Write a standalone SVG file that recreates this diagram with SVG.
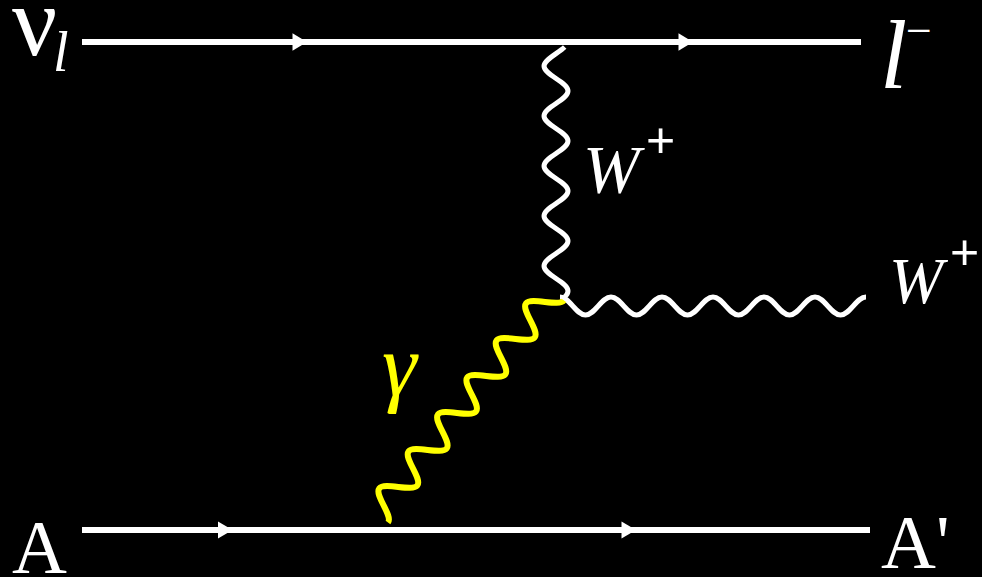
<svg xmlns="http://www.w3.org/2000/svg" width="982" height="577" viewBox="0 0 982 577">
<style>
  .bg{fill:#000}
  .ln{stroke:#fff;stroke-width:6;fill:none}
  .wv{stroke:#fff;stroke-width:5;fill:none;stroke-linecap:butt;stroke-linejoin:round}
  .ph{stroke:#ff0;stroke-width:6;fill:none;stroke-linejoin:round}
  .ah{fill:#fff}
  .t{font-family:"Liberation Serif","Times New Roman",serif;fill:#fff}
  .s{font-family:"Liberation Sans",Arial,sans-serif;fill:#fff}
  .it{font-style:italic}
  .y{fill:#ff0}
</style>
<rect class="bg" x="0" y="0" width="982" height="577"/>
<g id="connectors">
  <path class="ln" d="M82,42 H861"/>
  <path class="ln" d="M82,530 H870"/>
  <polygon class="ah" points="292.5,33.3 307,42 292.5,50.7"/>
  <polygon class="ah" points="678.5,33.3 693,42 678.5,50.7"/>
  <polygon class="ah" points="218,521.5 232.5,530 218,538.5"/>
  <polygon class="ah" points="621.5,521.5 636,530 621.5,538.5"/>
  <path class="wv" d="M564.7,47 C558.2,53.3 544,59.7 544,66 C544,75.1 568,81.9 568,91 S544,106.9 544,116 S568,131.9 568,141 S544,156.9 544,166 S568,181.9 568,191 S544,206.9 544,216 S568,231.9 568,241 S544,256.9 544,266 S568,281.9 568,291 C568,293 566.8,295 564.7,297"/>
  <path class="wv" d="M560,297 C569.3,297 576.2,315 585.5,315 S601.7,297 611,297 S627.2,315 636.5,315 S652.7,297 662,297 S678.2,315 687.5,315 S703.7,297 713,297 S729.2,315 738.5,315 S754.7,297 764,297 S780.2,315 789.5,315 S805.7,297 815,297 S831.2,315 840.5,315 S856.7,297 866,297"/>
  <path class="ph" d="M388,522.5 C393.3,515.8 374,495 379.3,488.3 C384.6,481.6 412,492.2 417.3,485.5 C422.6,478.8 403.3,458 408.6,451.3 C413.9,444.6 441.4,455.2 446.7,448.5 C452,441.8 432.7,421 438,414.3 C443.3,407.6 470.7,418.2 476,411.5 C481.3,404.8 462,384 467.3,377.3 C472.6,370.6 500,381.2 505.3,374.5 C510.6,367.8 491.3,347 496.6,340.3 C501.9,333.6 529.4,344.2 534.7,337.5 C540,330.8 520.7,310 526,303.3 C531.3,296.6 558.7,307.2 564,300.5"/>
</g>
<g id="nu_l">
  <text class="t" x="12" y="55" font-size="100">ν</text>
  <text class="t it" x="53" y="71" font-size="56">l</text>
</g>
<g id="lepton">
  <text class="t it" x="880" y="88" font-size="98">l</text>
  <text class="t" x="906" y="46" font-size="46">−</text>
</g>
<g id="W_internal">
  <text class="t it" x="583" y="191.7" font-size="68">W</text>
  <text class="s" x="646" y="157" font-size="50">+</text>
</g>
<g id="W_out">
  <text class="t it" x="889" y="302.7" font-size="65">W</text>
  <text class="s" x="950" y="269" font-size="50">+</text>
</g>
<g id="gamma">
  <text class="t it y" x="382" y="395" font-size="88">γ</text>
</g>
<g id="A">
  <text class="t" x="12" y="573" font-size="76">A</text>
</g>
<g id="A_prime">
  <text class="t" x="881" y="568" font-size="76">A'</text>
</g>
</svg>
